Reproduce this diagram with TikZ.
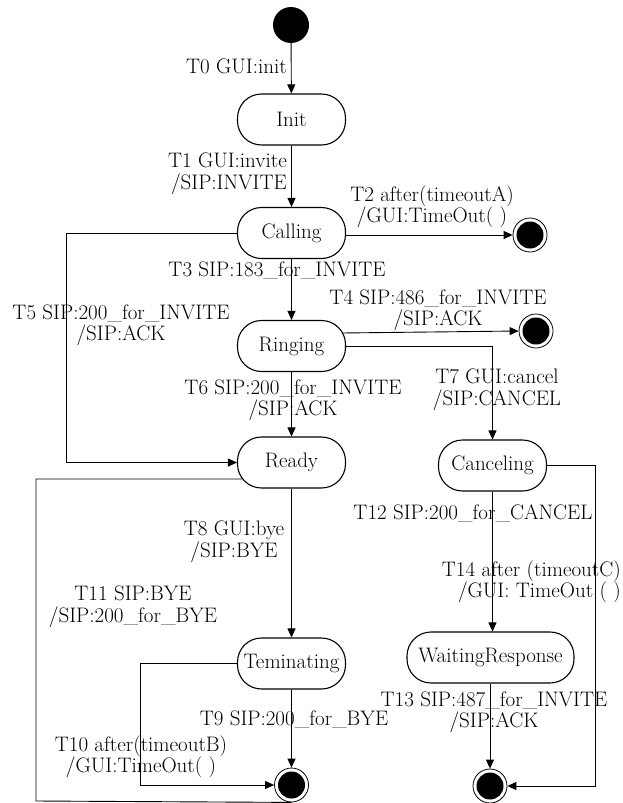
\documentclass[tikz,border=0pt]{standalone}
\usetikzlibrary{arrows.meta,calc}
\begin{document}
\begin{tikzpicture}[x=1pt,y=-1pt,
  every node/.style={font=\fontsize{21}{21.5}\selectfont},
  statebox/.style={draw, line width=1.1pt, rounded corners=24pt, minimum width=108pt, minimum height=51pt, inner sep=0pt},
  initdot/.style={circle, fill=black, minimum size=36pt, inner sep=0pt},
  finaldot/.style={circle, draw, line width=0.8pt, minimum size=34pt, inner sep=0pt,
    path picture={\fill (path picture bounding box.center) circle (13.5pt);}},
  lbl/.style={inner sep=0pt, align=center},
  arr/.style={line width=0.9pt, -{Triangle[length=9pt,width=8pt]}},
  ln/.style={line width=0.9pt}
]
\path[use as bounding box] (0,0) rectangle (623,803);

% states
\node[initdot] (start) at (291,25) {};
\node[statebox] (init) at (291.5,119.5) {Init};
\node[statebox] (calling) at (291.5,233) {Calling};
\node[statebox] (ringing) at (291.5,346) {Ringing};
\node[statebox] (ready) at (291.5,462.5) {Ready};
\node[statebox] (canceling) at (492.5,465.5) {Canceling};
\node[statebox] (teminating) at (291.5,663.5) {Teminating};
\node[statebox, minimum width=167pt] (waiting) at (490.5,657.5) {WaitingResponse};

\node[finaldot] (f1) at (530,235) {};
\node[finaldot] (f2) at (536,331) {};
\node[finaldot] (f3) at (291.5,785) {};
\node[finaldot] (f4) at (490,786) {};

% connectors
\draw[arr] (start) -- (init);
\draw[arr] (init) -- (calling);
\draw[arr] ($(calling.east)+(0,2)$) -- (f1.west);
\draw[arr] (calling) -- (ringing);
\draw[arr] ($(ringing.east)+(-4,-13)$) -- (f2.west);
\draw[arr] (ringing.east) -| (canceling.north);
\draw[arr] (calling.west) -- ++(-171,0) |- (ready.west);
\draw[arr] (ringing) -- (ready);
\draw[arr] (ready) -- (teminating);
\draw[ln] ($(ready.west)+(5,16.5)$) -- (36,479) -- (36,801) -- (f3.south);
\draw[arr] (teminating) -- (f3);
\draw[arr] (teminating.west) -- ++(-97,0) |- (f3.west);
\draw[arr] (canceling.south) -- (canceling.south |- waiting.north);
\draw[arr] (waiting.south -| f4) -- (f4);
\draw[arr] (canceling.east) -- ++(48,0) |- (f4.east);

% labels
\node[lbl, anchor=east] (l0) at (287,66) {T0 GUI:init};
\node[lbl, anchor=east, align=right] (l1) at (287,174) {T1 GUI:invite\\/SIP:INVITE};
\node[lbl] (l2) at (432,207) {T2 after(timeoutA)\\/GUI:TimeOut( )};
\node[lbl] (l3) at (277,271) {T3 SIP:183\_for\_INVITE};
\node[lbl] (l4) at (438,310) {T4 SIP:486\_for\_INVITE\\/SIP:ACK};
\node[lbl] (l5) at (121,325) {T5 SIP:200\_for\_INVITE\\/SIP:ACK};
\node[lbl] (l6) at (293,400) {T6 SIP:200\_for\_INVITE\\/SIP:ACK};
\node[lbl] (l7) at (497,390) {T7 GUI:cancel\\/SIP:CANCEL};
\node[lbl] (l8) at (234,542) {T8 GUI:bye\\/SIP:BYE};
\node[lbl] (l11) at (133,607) {T11 SIP:BYE\\/SIP:200\_for\_BYE};
\node[lbl] (l12) at (473,513) {T12 SIP:200\_for\_CANCEL};
\node[lbl, anchor=east, align=right] (l14) at (621,582) {T14 after (timeoutC)\\/GUI: TimeOut ( )};
\node[lbl] (l13) at (494,712) {T13 SIP:487\_for\_INVITE\\/SIP:ACK};
\node[lbl] (l9) at (294,720) {T9 SIP:200\_for\_BYE};
\node[lbl] (l10) at (141,757) {T10 after(timeoutB)\\/GUI:TimeOut( )};
\end{tikzpicture}
\end{document}
